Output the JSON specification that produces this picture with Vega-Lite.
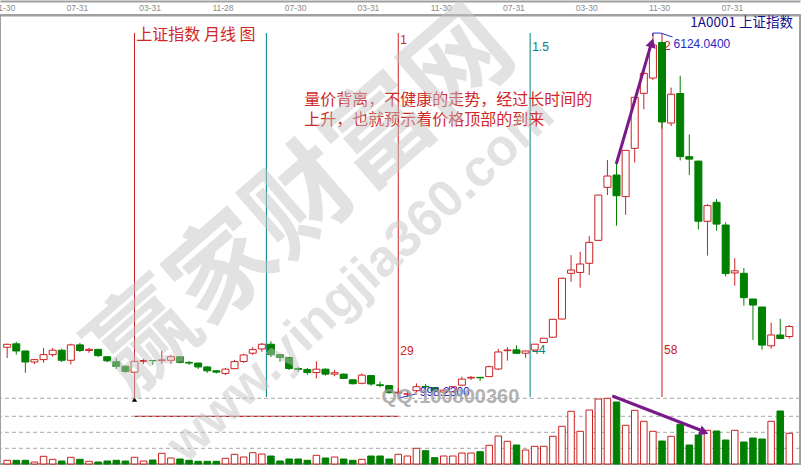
{
"$schema":"https://vega.github.io/schema/vega-lite/v6.json",
"width":800,"height":449,
"autosize":"none",
"padding":{"left":0,"top":15,"right":4,"bottom":3},
"background":"white",
"config":{"view":{"stroke":"#a0a0a0","strokeWidth":2},"axis":{"grid":false,"ticks":false,"title":null}},
"datasets":{
"k":[
{"i":0,"d":"2001-11-30","o":1698,"h":1748,"l":1547,"c":1740,"v":3.7},
{"i":1,"d":"2001-12-31","o":1747,"h":1776,"l":1595,"c":1646,"v":3.7},
{"i":2,"d":"2002-01-31","o":1646,"h":1650,"l":1339,"c":1491,"v":3.7},
{"i":3,"d":"2002-02-28","o":1491,"h":1534,"l":1462,"c":1524,"v":2},
{"i":4,"d":"2002-03-29","o":1524,"h":1690,"l":1480,"c":1595,"v":7.7},
{"i":5,"d":"2002-04-30","o":1595,"h":1688,"l":1565,"c":1657,"v":4.7},
{"i":6,"d":"2002-05-31","o":1657,"h":1680,"l":1490,"c":1515,"v":3},
{"i":7,"d":"2002-06-28","o":1515,"h":1748,"l":1455,"c":1732,"v":6.7},
{"i":8,"d":"2002-07-31","o":1732,"h":1760,"l":1632,"c":1653,"v":4.7},
{"i":9,"d":"2002-08-30","o":1653,"h":1690,"l":1620,"c":1669,"v":2.7},
{"i":10,"d":"2002-09-27","o":1669,"h":1672,"l":1560,"c":1581,"v":2},
{"i":11,"d":"2002-10-31","o":1565,"h":1567,"l":1490,"c":1507,"v":3},
{"i":12,"d":"2002-11-29","o":1495,"h":1547,"l":1392,"c":1430,"v":3.7},
{"i":13,"d":"2002-12-31","o":1431,"h":1440,"l":1339,"c":1357,"v":3},
{"i":14,"d":"2003-01-29","o":1347,"h":1505,"l":1311,"c":1500,"v":6.7},
{"i":15,"d":"2003-02-28","o":1500,"h":1535,"l":1465,"c":1512,"v":3},
{"i":16,"d":"2003-03-31","o":1512,"h":1513,"l":1450,"c":1510,"v":4},
{"i":17,"d":"2003-04-30","o":1510,"h":1649,"l":1465,"c":1521,"v":10.7},
{"i":18,"d":"2003-05-30","o":1515,"h":1592,"l":1465,"c":1565,"v":6},
{"i":19,"d":"2003-06-30","o":1565,"h":1570,"l":1470,"c":1486,"v":5},
{"i":20,"d":"2003-07-31","o":1486,"h":1505,"l":1450,"c":1476,"v":3.7},
{"i":21,"d":"2003-08-29","o":1476,"h":1478,"l":1392,"c":1421,"v":2.7},
{"i":22,"d":"2003-09-30","o":1421,"h":1430,"l":1338,"c":1367,"v":2.7},
{"i":23,"d":"2003-10-31","o":1367,"h":1378,"l":1330,"c":1348,"v":2.7},
{"i":24,"d":"2003-11-28","o":1330,"h":1406,"l":1307,"c":1390,"v":5.7},
{"i":25,"d":"2003-12-31","o":1397,"h":1520,"l":1390,"c":1497,"v":9.7},
{"i":26,"d":"2004-01-30","o":1497,"h":1605,"l":1480,"c":1590,"v":7},
{"i":27,"d":"2004-02-27","o":1615,"h":1700,"l":1590,"c":1665,"v":11.3},
{"i":28,"d":"2004-03-31","o":1675,"h":1760,"l":1635,"c":1741,"v":10},
{"i":29,"d":"2004-04-30","o":1741,"h":1783,"l":1561,"c":1595,"v":8},
{"i":30,"d":"2004-05-31","o":1595,"h":1600,"l":1495,"c":1555,"v":3},
{"i":31,"d":"2004-06-30","o":1555,"h":1561,"l":1378,"c":1399,"v":5},
{"i":32,"d":"2004-07-30","o":1399,"h":1420,"l":1350,"c":1386,"v":5},
{"i":33,"d":"2004-08-31","o":1386,"h":1406,"l":1310,"c":1342,"v":3.7},
{"i":34,"d":"2004-09-30","o":1342,"h":1500,"l":1260,"c":1390,"v":8.7},
{"i":35,"d":"2004-10-29","o":1390,"h":1398,"l":1300,"c":1320,"v":6},
{"i":36,"d":"2004-11-30","o":1320,"h":1380,"l":1290,"c":1340,"v":7},
{"i":37,"d":"2004-12-31","o":1320,"h":1330,"l":1250,"c":1260,"v":5},
{"i":38,"d":"2005-01-31","o":1240,"h":1250,"l":1175,"c":1185,"v":3.7},
{"i":39,"d":"2005-02-28","o":1191,"h":1330,"l":1177,"c":1306,"v":4.7},
{"i":40,"d":"2005-03-31","o":1300,"h":1310,"l":1156,"c":1181,"v":8},
{"i":41,"d":"2005-04-29","o":1170,"h":1215,"l":1135,"c":1159,"v":8},
{"i":42,"d":"2005-05-31","o":1159,"h":1165,"l":1043,"c":1060,"v":5},
{"i":43,"d":"2005-06-30","o":1055,"h":1125,"l":998,"c":1065,"v":9.7},
{"i":44,"d":"2005-07-29","o":1038,"h":1087,"l":1000,"c":1044,"v":8},
{"i":45,"d":"2005-08-31","o":1087,"h":1190,"l":1068,"c":1143,"v":15.7},
{"i":46,"d":"2005-09-30","o":1146,"h":1181,"l":1070,"c":1141,"v":13.3},
{"i":47,"d":"2005-10-31","o":1130,"h":1135,"l":1070,"c":1082,"v":6.3},
{"i":48,"d":"2005-11-30","o":1068,"h":1100,"l":1060,"c":1095,"v":8},
{"i":49,"d":"2005-12-30","o":1070,"h":1148,"l":1065,"c":1143,"v":8},
{"i":50,"d":"2006-01-25","o":1165,"h":1285,"l":1155,"c":1250,"v":11},
{"i":51,"d":"2006-02-28","o":1265,"h":1295,"l":1237,"c":1275,"v":11},
{"i":52,"d":"2006-03-31","o":1275,"h":1280,"l":1225,"c":1268,"v":12.3},
{"i":53,"d":"2006-04-28","o":1285,"h":1440,"l":1280,"c":1425,"v":18.7},
{"i":54,"d":"2006-05-31","o":1392,"h":1675,"l":1378,"c":1632,"v":28},
{"i":55,"d":"2006-06-30","o":1650,"h":1700,"l":1510,"c":1660,"v":22.7},
{"i":56,"d":"2006-07-31","o":1662,"h":1726,"l":1610,"c":1613,"v":19},
{"i":57,"d":"2006-08-31","o":1615,"h":1648,"l":1550,"c":1646,"v":14},
{"i":58,"d":"2006-09-29","o":1660,"h":1745,"l":1655,"c":1742,"v":17.7},
{"i":59,"d":"2006-10-31","o":1765,"h":1830,"l":1760,"c":1825,"v":17.7},
{"i":60,"d":"2006-11-30","o":1840,"h":2095,"l":1835,"c":2092,"v":27.7},
{"i":61,"d":"2006-12-29","o":2096,"h":2680,"l":2090,"c":2670,"v":37.7},
{"i":62,"d":"2007-01-31","o":2740,"h":2997,"l":2620,"c":2786,"v":52.7},
{"i":63,"d":"2007-02-28","o":2752,"h":3044,"l":2537,"c":2871,"v":32.7},
{"i":64,"d":"2007-03-30","o":2881,"h":3265,"l":2716,"c":3176,"v":54},
{"i":65,"d":"2007-04-30","o":3204,"h":3845,"l":3200,"c":3842,"v":65},
{"i":66,"d":"2007-05-31","o":3950,"h":4335,"l":3842,"c":4110,"v":65.7},
{"i":67,"d":"2007-06-29","o":4124,"h":4300,"l":3410,"c":3832,"v":62},
{"i":68,"d":"2007-07-31","o":3820,"h":4476,"l":3563,"c":4471,"v":38.7},
{"i":69,"d":"2007-08-31","o":4500,"h":5220,"l":4300,"c":5218,"v":53.7},
{"i":70,"d":"2007-09-28","o":5274,"h":5640,"l":5050,"c":5556,"v":42.7},
{"i":71,"d":"2007-10-31","o":5490,"h":6124,"l":5460,"c":5954,"v":32.7},
{"i":72,"d":"2007-11-30","o":5990,"h":6000,"l":4778,"c":4871,"v":23},
{"i":73,"d":"2007-12-28","o":4856,"h":5355,"l":4812,"c":5262,"v":27.7},
{"i":74,"d":"2008-01-31","o":5272,"h":5522,"l":4330,"c":4383,"v":39.7},
{"i":75,"d":"2008-02-29","o":4383,"h":4695,"l":4123,"c":4348,"v":19},
{"i":76,"d":"2008-03-31","o":4320,"h":4325,"l":3357,"c":3473,"v":29},
{"i":77,"d":"2008-04-30","o":3472,"h":3715,"l":2990,"c":3693,"v":33.7},
{"i":78,"d":"2008-05-30","o":3740,"h":3786,"l":3340,"c":3433,"v":33},
{"i":79,"d":"2008-06-30","o":3420,"h":3460,"l":2695,"c":2736,"v":24},
{"i":80,"d":"2008-07-31","o":2745,"h":2952,"l":2566,"c":2775,"v":33.7},
{"i":81,"d":"2008-08-29","o":2740,"h":2815,"l":2284,"c":2397,"v":22},
{"i":82,"d":"2008-09-26","o":2378,"h":2380,"l":1802,"c":2293,"v":26},
{"i":83,"d":"2008-10-31","o":2265,"h":2270,"l":1664,"c":1729,"v":25},
{"i":84,"d":"2008-11-28","o":1719,"h":2044,"l":1678,"c":1871,"v":42.7},
{"i":85,"d":"2008-12-31","o":1871,"h":2100,"l":1814,"c":1821,"v":53},
{"i":86,"d":"2009-01-23","o":1850,"h":2010,"l":1820,"c":1991,"v":30.7}
],
"vgrid":[{"g":15.7},{"g":31.7},{"g":47.7},{"g":65.7}],
"hseg":[{"i":14,"i2":43,"g":47.7}],
"ar2":[{"i":66.54,"v":68,"i2":76.2,"v2":34}],
"ar2h":[{"i":76.63,"v":32}],
"cyc":[{"i":14,"n":0,"lo":975,"hi":6124},{"i":28.5,"n":0.5,"lo":998,"hi":6124},{"i":43,"n":1,"lo":998,"hi":6124},{"i":57.5,"n":1.5,"lo":998,"hi":6124},{"i":72,"n":2,"lo":998,"hi":6124}],
"cycl":[{"i":43,"n":1,"p":6025,"t":"1"},{"i":57.5,"n":1.5,"p":5926,"t":"1.5"},{"i":72,"n":2,"p":5940,"t":"2"},{"i":43,"n":1,"p":1646,"t":"29"},{"i":57.5,"n":1.5,"p":1660,"t":"44"},{"i":72,"n":2,"p":1660,"t":"58"}],
"tri":[{"i":14,"p":962}],
"lead":[{"g":"a","s":1,"i":70.99,"p":6081},{"g":"a","s":2,"i":70.99,"p":6123},{"g":"a","s":3,"i":71.86,"p":6123},{"g":"a","s":4,"i":73.16,"p":6067},{"g":"b","s":1,"i":42.97,"p":980},{"g":"b","s":2,"i":44.93,"p":1040}],
"vlab":[{"i":73.27,"p":5968,"t":"6124.0400"},{"i":45.36,"p":1073,"t":"998.2300"}],
"note":[{"i":14.2,"p":6095,"t":"上证指数 月线 图"},{"i":32.66,"p":5180,"t":"量价背离，不健康的走势，经过长时间的"},{"i":32.66,"p":4898,"t":"上升，也就预示着价格顶部的到来"}],
"code":[{"i":86.4,"p":6264,"t":"1A0001 上证指数"}],
"ar1":[{"i":66.97,"p":4279,"i2":70.77,"p2":5954}],
"ar1h":[{"i":70.88,"p":5985}],
"wm1":[{"i":32.6,"p":3720,"t":"赢家财富网"}],
"wm2":[{"i":38.85,"p":2645,"t":"www.yingjia360.com"}],
"qq":[{"i":48.73,"p":998,"t":"QQ:100800360"}]
},
"resolve":{"scale":{"y":"independent"},"axis":{"x":"independent"}},
"layer":[
{
"layer":[
{"data":{"name":"hseg"},"mark":{"type":"rule","color":"#cc2020","strokeWidth":1.3},
 "encoding":{"x":{"field":"i","type":"quantitative","scale":{"domain":[-0.239,86.623],"nice":false,"zero":false},"axis":{"orient":"top","offset":14,"labels":false,"ticks":false,"grid":false,"domain":true,"domainColor":"#a0a0a0","domainWidth":2,"title":null}},
 "x2":{"field":"i2"},
 "y":{"field":"g","type":"quantitative","scale":{"domain":[0,449],"nice":false,"zero":false},"axis":null}}},
{"data":{"name":"vgrid"},"mark":{"type":"rule","color":"#a8a8a8","strokeWidth":1,"strokeDash":[4,3]},
 "encoding":{"y":{"field":"g","type":"quantitative","scale":{"domain":[0,449],"nice":false,"zero":false},"axis":null}}},
{"data":{"name":"k"},"mark":{"type":"bar","width":6.5,"orient":"vertical","strokeWidth":1},
 "encoding":{"x":{"field":"i","type":"quantitative","scale":{"domain":[-0.239,86.623],"nice":false,"zero":false}},
 "y":{"field":"v","type":"quantitative","stack":null,"scale":{"domain":[0,449],"nice":false,"zero":false},"axis":null},
 "y2":{"datum":0},
 "fill":{"condition":{"test":"datum.c >= datum.o","value":"white"},"value":"#008000"},
 "stroke":{"condition":{"test":"datum.c >= datum.o","value":"#cc2020"},"value":"#008000"}}},
{"data":{"name":"ar2"},"mark":{"type":"rule","color":"#7a1a8a","strokeWidth":3},
 "encoding":{"x":{"field":"i","type":"quantitative","scale":{"domain":[-0.239,86.623],"nice":false,"zero":false}},
 "x2":{"field":"i2"},
 "y":{"field":"v","type":"quantitative","scale":{"domain":[0,449],"nice":false,"zero":false},"axis":null},
 "y2":{"field":"v2"}}},
{"data":{"name":"ar2h"},"mark":{"type":"point","shape":"triangle-up","angle":111,"size":110,"filled":true,"color":"#7a1a8a","opacity":1},
 "encoding":{"x":{"field":"i","type":"quantitative","scale":{"domain":[-0.239,86.623],"nice":false,"zero":false}},
 "y":{"field":"v","type":"quantitative","scale":{"domain":[0,449],"nice":false,"zero":false},"axis":null}}}
]
},
{
"layer":[
{"data":{"name":"cyc"},"mark":{"type":"rule","strokeWidth":1},
 "encoding":{"x":{"field":"i","type":"quantitative","scale":{"domain":[-0.239,86.623],"nice":false,"zero":false},
  "axis":{"orient":"top","values":[-0.33,7.67,15.67,23.67,31.67,39.67,47.67,55.67,63.67,71.67,79.67],"labelExpr":"['11-30','07-31','03-31','11-28','07-30','03-31','11-30','07-31','03-30','11-30','07-31'][round(datum.value/8)]","labelColor":"#8a8a8a","labelFont":"Liberation Sans","labelFontSize":8.5,"labelPadding":3,"labelAlign":"center","labelFlush":false,"labelOverlap":false,"labelBound":false,"ticks":false,"grid":false,"domain":true,"domainColor":"#a0a0a0","domainWidth":2,"title":null}},
 "y":{"field":"lo","type":"quantitative","scale":{"domain":[54.5,6377.5],"nice":false,"zero":false},"axis":null},
 "y2":{"field":"hi"},
 "color":{"condition":{"test":"datum.n % 1 === 0","value":"#cc2020"},"value":"#008080"}}},
{"data":{"name":"cycl"},"mark":{"type":"text","align":"left","baseline":"middle","dx":2,"font":"Liberation Sans","fontSize":12},
 "encoding":{"x":{"field":"i","type":"quantitative","scale":{"domain":[-0.239,86.623],"nice":false,"zero":false}},
 "y":{"field":"p","type":"quantitative","scale":{"domain":[54.5,6377.5],"nice":false,"zero":false},"axis":null},
 "text":{"field":"t"},
 "color":{"condition":{"test":"datum.n % 1 === 0","value":"#cc2020"},"value":"#008080"}}},
{"data":{"name":"k"},"mark":{"type":"rule","strokeWidth":1},
 "encoding":{"x":{"field":"i","type":"quantitative","scale":{"domain":[-0.239,86.623],"nice":false,"zero":false}},
 "y":{"field":"l","type":"quantitative","scale":{"domain":[54.5,6377.5],"nice":false,"zero":false},"axis":null},
 "y2":{"field":"h"},
 "color":{"condition":{"test":"datum.c >= datum.o","value":"#cc2020"},"value":"#008000"}}},
{"data":{"name":"k"},"mark":{"type":"bar","width":7,"orient":"vertical","strokeWidth":1},
 "encoding":{"x":{"field":"i","type":"quantitative","scale":{"domain":[-0.239,86.623],"nice":false,"zero":false}},
 "y":{"field":"o","type":"quantitative","stack":null,"scale":{"domain":[54.5,6377.5],"nice":false,"zero":false},"axis":null},
 "y2":{"field":"c"},
 "fill":{"condition":{"test":"datum.c >= datum.o","value":"white"},"value":"#008000"},
 "stroke":{"condition":{"test":"datum.c >= datum.o","value":"#cc2020"},"value":"#008000"}}},
{"data":{"name":"tri"},"mark":{"type":"point","shape":"triangle-up","size":28,"filled":true,"color":"black","opacity":1},
 "encoding":{"x":{"field":"i","type":"quantitative","scale":{"domain":[-0.239,86.623],"nice":false,"zero":false}},
 "y":{"field":"p","type":"quantitative","scale":{"domain":[54.5,6377.5],"nice":false,"zero":false},"axis":null}}},
{"data":{"name":"lead"},"mark":{"type":"line","color":"#2828c8","strokeWidth":1},
 "encoding":{"x":{"field":"i","type":"quantitative","scale":{"domain":[-0.239,86.623],"nice":false,"zero":false}},
 "y":{"field":"p","type":"quantitative","scale":{"domain":[54.5,6377.5],"nice":false,"zero":false},"axis":null},
 "detail":{"field":"g"},"order":{"field":"s"}}},
{"data":{"name":"vlab"},"mark":{"type":"text","align":"left","baseline":"middle","font":"Liberation Sans","fontSize":12,"color":"#2828c8"},
 "encoding":{"x":{"field":"i","type":"quantitative","scale":{"domain":[-0.239,86.623],"nice":false,"zero":false}},
 "y":{"field":"p","type":"quantitative","scale":{"domain":[54.5,6377.5],"nice":false,"zero":false},"axis":null},
 "text":{"field":"t"}}},
{"data":{"name":"note"},"mark":{"type":"text","align":"left","baseline":"middle","font":"Noto Sans CJK SC","fontSize":16,"color":"#d02828"},
 "encoding":{"x":{"field":"i","type":"quantitative","scale":{"domain":[-0.239,86.623],"nice":false,"zero":false}},
 "y":{"field":"p","type":"quantitative","scale":{"domain":[54.5,6377.5],"nice":false,"zero":false},"axis":null},
 "text":{"field":"t"}}},
{"data":{"name":"code"},"mark":{"type":"text","align":"right","baseline":"middle","font":"Noto Sans CJK SC","fontSize":13.5,"color":"#10108a"},
 "encoding":{"x":{"field":"i","type":"quantitative","scale":{"domain":[-0.239,86.623],"nice":false,"zero":false}},
 "y":{"field":"p","type":"quantitative","scale":{"domain":[54.5,6377.5],"nice":false,"zero":false},"axis":null},
 "text":{"field":"t"}}},
{"data":{"name":"ar1"},"mark":{"type":"rule","color":"#7a1a8a","strokeWidth":3},
 "encoding":{"x":{"field":"i","type":"quantitative","scale":{"domain":[-0.239,86.623],"nice":false,"zero":false}},
 "x2":{"field":"i2"},
 "y":{"field":"p","type":"quantitative","scale":{"domain":[54.5,6377.5],"nice":false,"zero":false},"axis":null},
 "y2":{"field":"p2"}}},
{"data":{"name":"ar1h"},"mark":{"type":"point","shape":"triangle-up","angle":16,"size":110,"filled":true,"color":"#7a1a8a","opacity":1},
 "encoding":{"x":{"field":"i","type":"quantitative","scale":{"domain":[-0.239,86.623],"nice":false,"zero":false}},
 "y":{"field":"p","type":"quantitative","scale":{"domain":[54.5,6377.5],"nice":false,"zero":false},"axis":null}}},
{"data":{"name":"qq"},"mark":{"type":"text","align":"center","baseline":"middle","font":"Liberation Sans","fontWeight":"bold","fontSize":20,"color":"#a0a0a0","opacity":0.8},
 "encoding":{"x":{"field":"i","type":"quantitative","scale":{"domain":[-0.239,86.623],"nice":false,"zero":false}},
 "y":{"field":"p","type":"quantitative","scale":{"domain":[54.5,6377.5],"nice":false,"zero":false},"axis":null},
 "text":{"field":"t"}}},
{"data":{"name":"wm1"},"mark":{"type":"text","align":"center","baseline":"middle","angle":-41,"font":"Noto Sans CJK SC","fontWeight":"bold","fontSize":104,"color":"#c4c4c4","opacity":0.48},
 "encoding":{"x":{"field":"i","type":"quantitative","scale":{"domain":[-0.239,86.623],"nice":false,"zero":false}},
 "y":{"field":"p","type":"quantitative","scale":{"domain":[54.5,6377.5],"nice":false,"zero":false},"axis":null},
 "text":{"field":"t"}}},
{"data":{"name":"wm2"},"mark":{"type":"text","align":"center","baseline":"middle","angle":-43,"font":"Liberation Sans","fontWeight":"bold","fontSize":52,"color":"#c4c4c4","opacity":0.48},
 "encoding":{"x":{"field":"i","type":"quantitative","scale":{"domain":[-0.239,86.623],"nice":false,"zero":false}},
 "y":{"field":"p","type":"quantitative","scale":{"domain":[54.5,6377.5],"nice":false,"zero":false},"axis":null},
 "text":{"field":"t"}}}
]
}
]
}
